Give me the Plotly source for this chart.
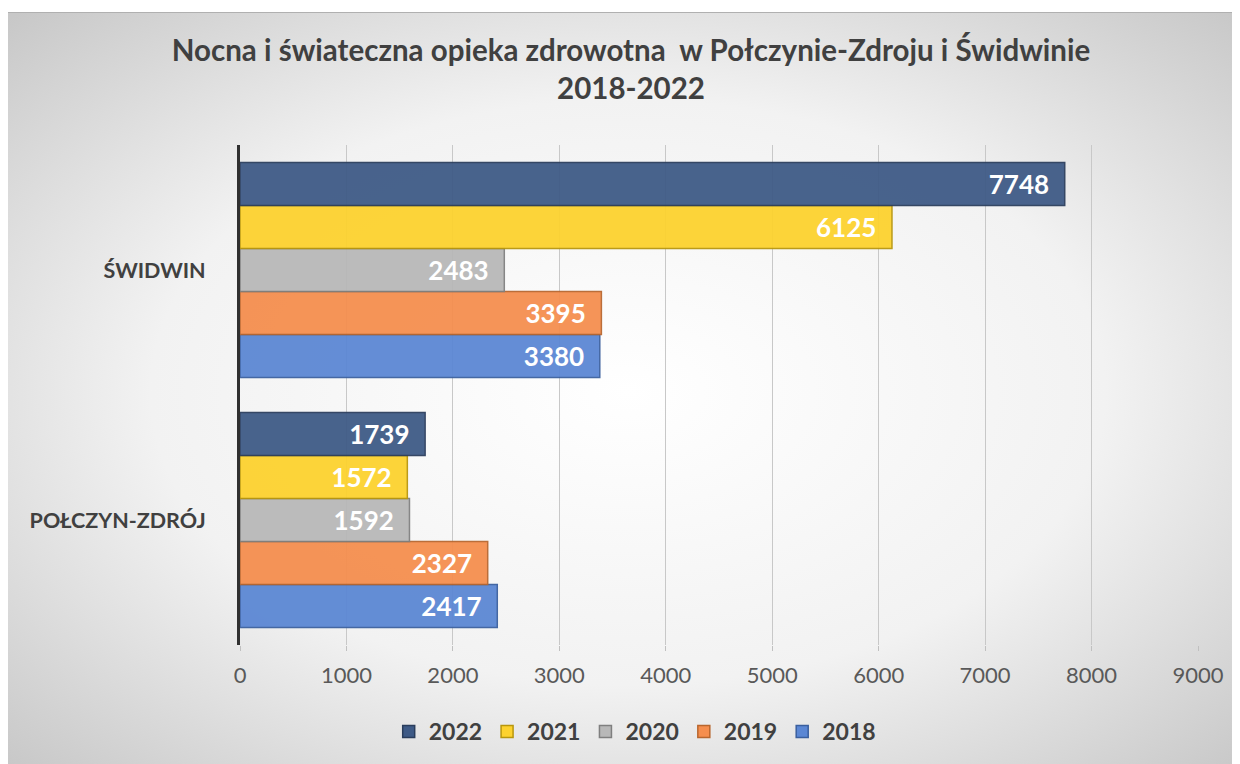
import plotly.graph_objects as go
import base64

categories = ["POŁCZYN-ZDRÓJ", "ŚWIDWIN"]
years = ["2018", "2019", "2020", "2021", "2022"]
values = {
    "2018": [2417, 3380],
    "2019": [2327, 3395],
    "2020": [1592, 2483],
    "2021": [1572, 6125],
    "2022": [1739, 7748],
}
colors = {
    "2018": "#5B87D4",
    "2019": "#F58E4E",
    "2020": "#B8B8B8",
    "2021": "#FDD22E",
    "2022": "#3E5A86",
}
edge = {
    "2018": "#3A5F9E",
    "2019": "#B8662E",
    "2020": "#7F7F7F",
    "2021": "#B8960C",
    "2022": "#2A3D5C",
}

L, R, T, B = 232, 50, 137, 127
W, H = 1240, 764
PW, PH = W - L - R, H - T - B

fig = go.Figure()
for y in years:
    fig.add_trace(go.Bar(
        y=categories, x=values[y], name=y, orientation="h",
        marker=dict(color=colors[y], line=dict(color=edge[y], width=1.5), opacity=0.94),
        text=[str(v) + "\u00a0\u00a0" for v in values[y]], textposition="inside",
        insidetextanchor="end",
        textfont=dict(color="white", size=26, family="Lato", weight="bold"),
    ))

svg = """<svg xmlns='http://www.w3.org/2000/svg' width='1240' height='760'>
<defs><radialGradient id='g' cx='50%' cy='50%' r='70%'>
<stop offset='0%' stop-color='#ffffff'/><stop offset='55%' stop-color='#f2f2f2'/>
<stop offset='100%' stop-color='#c8c8c8'/></radialGradient></defs>
<rect width='1240' height='760' fill='url(#g)'/>
<line x1='0' y1='0.5' x2='1240' y2='0.5' stroke='#b0b0b0' stroke-width='1'/></svg>"""
uri = "data:image/svg+xml;base64," + base64.b64encode(svg.encode()).decode()

fig.update_layout(
    width=W, height=H,
    paper_bgcolor="white", plot_bgcolor="rgba(0,0,0,0)",
    barmode="group", bargap=0.14, bargroupgap=0.0,
    margin=dict(l=L, r=R, t=T, b=B, autoexpand=False),
    images=[dict(source=uri, xref="paper", yref="paper", layer="below",
                 x=-L / PW, y=1 + (T - 4) / PH, sizex=1240 / PW, sizey=760 / PH,
                 xanchor="left", yanchor="top", sizing="stretch")],
    title=dict(text="Nocna i świateczna opieka zdrowotna  w Połczynie-Zdroju i Świdwinie<br>2018-2022",
               xref="container", yref="container",
               x=623 / W, xanchor="center", y=1 - 53 / H, yanchor="top",
               font=dict(family="Lato", size=29.5, color="#404040", weight="bold")),
    xaxis=dict(range=[0, 9000], dtick=1000, showgrid=True, gridcolor="#C8C8C8", gridwidth=1,
               zeroline=False, ticks="outside", ticklen=5, tickcolor="#C0C0C0",
               tickfont=dict(family="Lato", size=22, color="#595959"), ticklabelstandoff=6),
    yaxis=dict(showline=True, linecolor="#303030", linewidth=3, ticks="",
               tickfont=dict(family="Lato", size=21.5, color="#404040", weight="bold"),
               ticklabelstandoff=27),
    legend=dict(orientation="h", traceorder="reversed", x=0.412, xanchor="center",
                y=-0.13, yanchor="top", font=dict(family="Lato", size=23, color="#404040", weight="bold"),
                bgcolor="rgba(0,0,0,0)", itemwidth=30),
    showlegend=True,
)
fig.write_html("out.html")
